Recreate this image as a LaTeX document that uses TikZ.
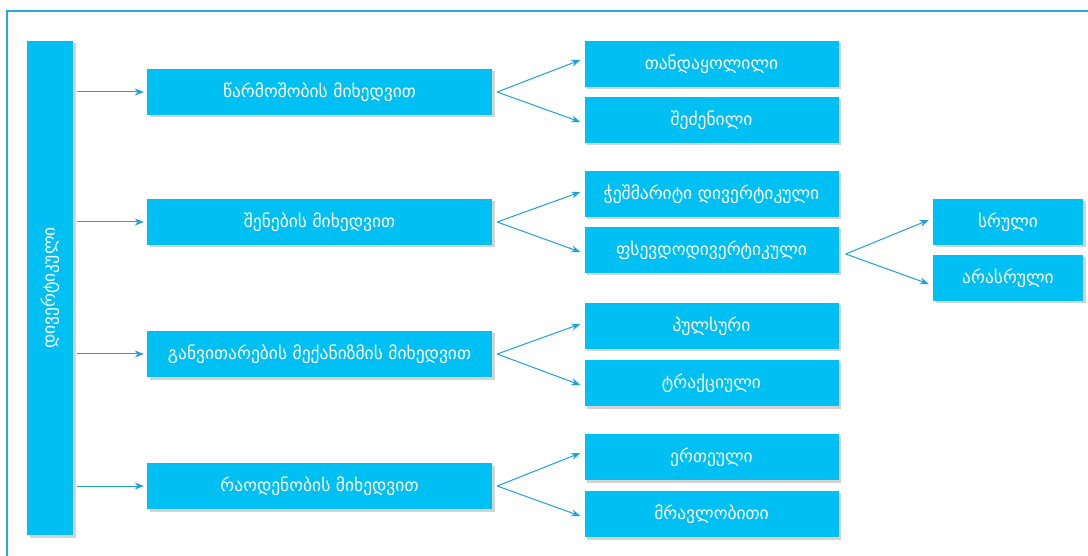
\documentclass[tikz,border=0pt]{standalone}
\usepackage{fontspec}
\newfontfamily\geofont{DejaVu Sans}
\usetikzlibrary{arrows.meta,shadows}
\definecolor{boxcyan}{RGB}{0,191,243}
\definecolor{linkblue}{RGB}{27,161,226}
\definecolor{frameblue}{RGB}{41,168,224}

\begin{document}
\begin{tikzpicture}[x=1pt,y=-1pt,
    box/.style={fill=boxcyan,text=white,inner sep=0pt,minimum height=46pt,
      font=\geofont\fontsize{17.5}{20}\selectfont,
      drop shadow={shadow xshift=2.5pt,shadow yshift=-2.5pt,opacity=0.35,fill=gray}},
    critbox/.style={box,minimum width=345pt},
    kindbox/.style={box,minimum width=254pt},
    leafbox/.style={box,minimum width=150pt},
    link/.style={linkblue,line width=1pt,-{Stealth[length=9pt,width=7pt]}}]
  \useasboundingbox (0,0) rectangle (1088,556);
  % frame
  \draw[frameblue,line width=1.2pt] (7,556) -- (7,11) -- (1088,11);
  % root
  \node[box,minimum width=46pt,minimum height=494pt] (root) at (50,288) {};
  \node[rotate=90,text=white,font=\geofont\fontsize{17.5}{20}\selectfont] (rootlabel) at (root.center) {დივერტიკული};
  % criteria
  \node[critbox] (origin) at (319.5,92) {წარმოშობის მიხედვით};
  \node[critbox] (structure) at (319.5,222) {შენების მიხედვით};
  \node[critbox] (mechanism) at (319.5,354) {განვითარების მექანიზმის მიხედვით};
  \node[critbox] (count) at (319.5,486) {რაოდენობის მიხედვით};
  % kinds
  \node[kindbox] (congenital) at (711.5,64) {თანდაყოლილი};
  \node[kindbox] (acquired) at (711.5,120) {შეძენილი};
  \node[kindbox] (truediv) at (711.5,194) {ჭეშმარიტი დივერტიკული};
  \node[kindbox] (pseudodiv) at (711.5,250) {ფსევდოდივერტიკული};
  \node[kindbox] (pulsion) at (711.5,326) {პულსური};
  \node[kindbox] (traction) at (711.5,383) {ტრაქციული};
  \node[kindbox] (single) at (711.5,457) {ერთეული};
  \node[kindbox] (multiple) at (711.5,514) {მრავლობითი};
  % pseudo kinds
  \node[leafbox] (full) at (1008,222) {სრული};
  \node[leafbox] (partial) at (1008,278) {არასრული};
  % arrows
  \foreach \c in {origin,structure,mechanism,count}
    \draw[link] ([xshift=4pt]root.east |- \c.west) -- ([xshift=-3pt]\c.west);
  \draw[link] ([xshift=5pt]origin.east) -- ([xshift=-4pt,yshift=4pt]congenital.west);
  \draw[link] ([xshift=5pt]origin.east) -- ([xshift=-4pt,yshift=-2pt]acquired.west);
  \draw[link] ([xshift=5pt]structure.east) -- ([xshift=-4pt,yshift=2pt]truediv.west);
  \draw[link] ([xshift=5pt]structure.east) -- ([xshift=-4pt,yshift=-2pt]pseudodiv.west);
  \draw[link] ([xshift=5pt]mechanism.east) -- ([xshift=-4pt,yshift=2pt]pulsion.west);
  \draw[link] ([xshift=5pt]mechanism.east) -- ([xshift=-4pt,yshift=-2pt]traction.west);
  \draw[link] ([xshift=5pt]count.east) -- ([xshift=-4pt,yshift=4pt]single.west);
  \draw[link] ([xshift=5pt]count.east) -- ([xshift=-4pt,yshift=-2pt]multiple.west);
  \draw[link] ([xshift=7pt,yshift=-4pt]pseudodiv.east) -- ([xshift=-4pt,yshift=2pt]full.west);
  \draw[link] ([xshift=7pt,yshift=-4pt]pseudodiv.east) -- ([xshift=-4pt,yshift=-6pt]partial.west);
\end{tikzpicture}
\end{document}
